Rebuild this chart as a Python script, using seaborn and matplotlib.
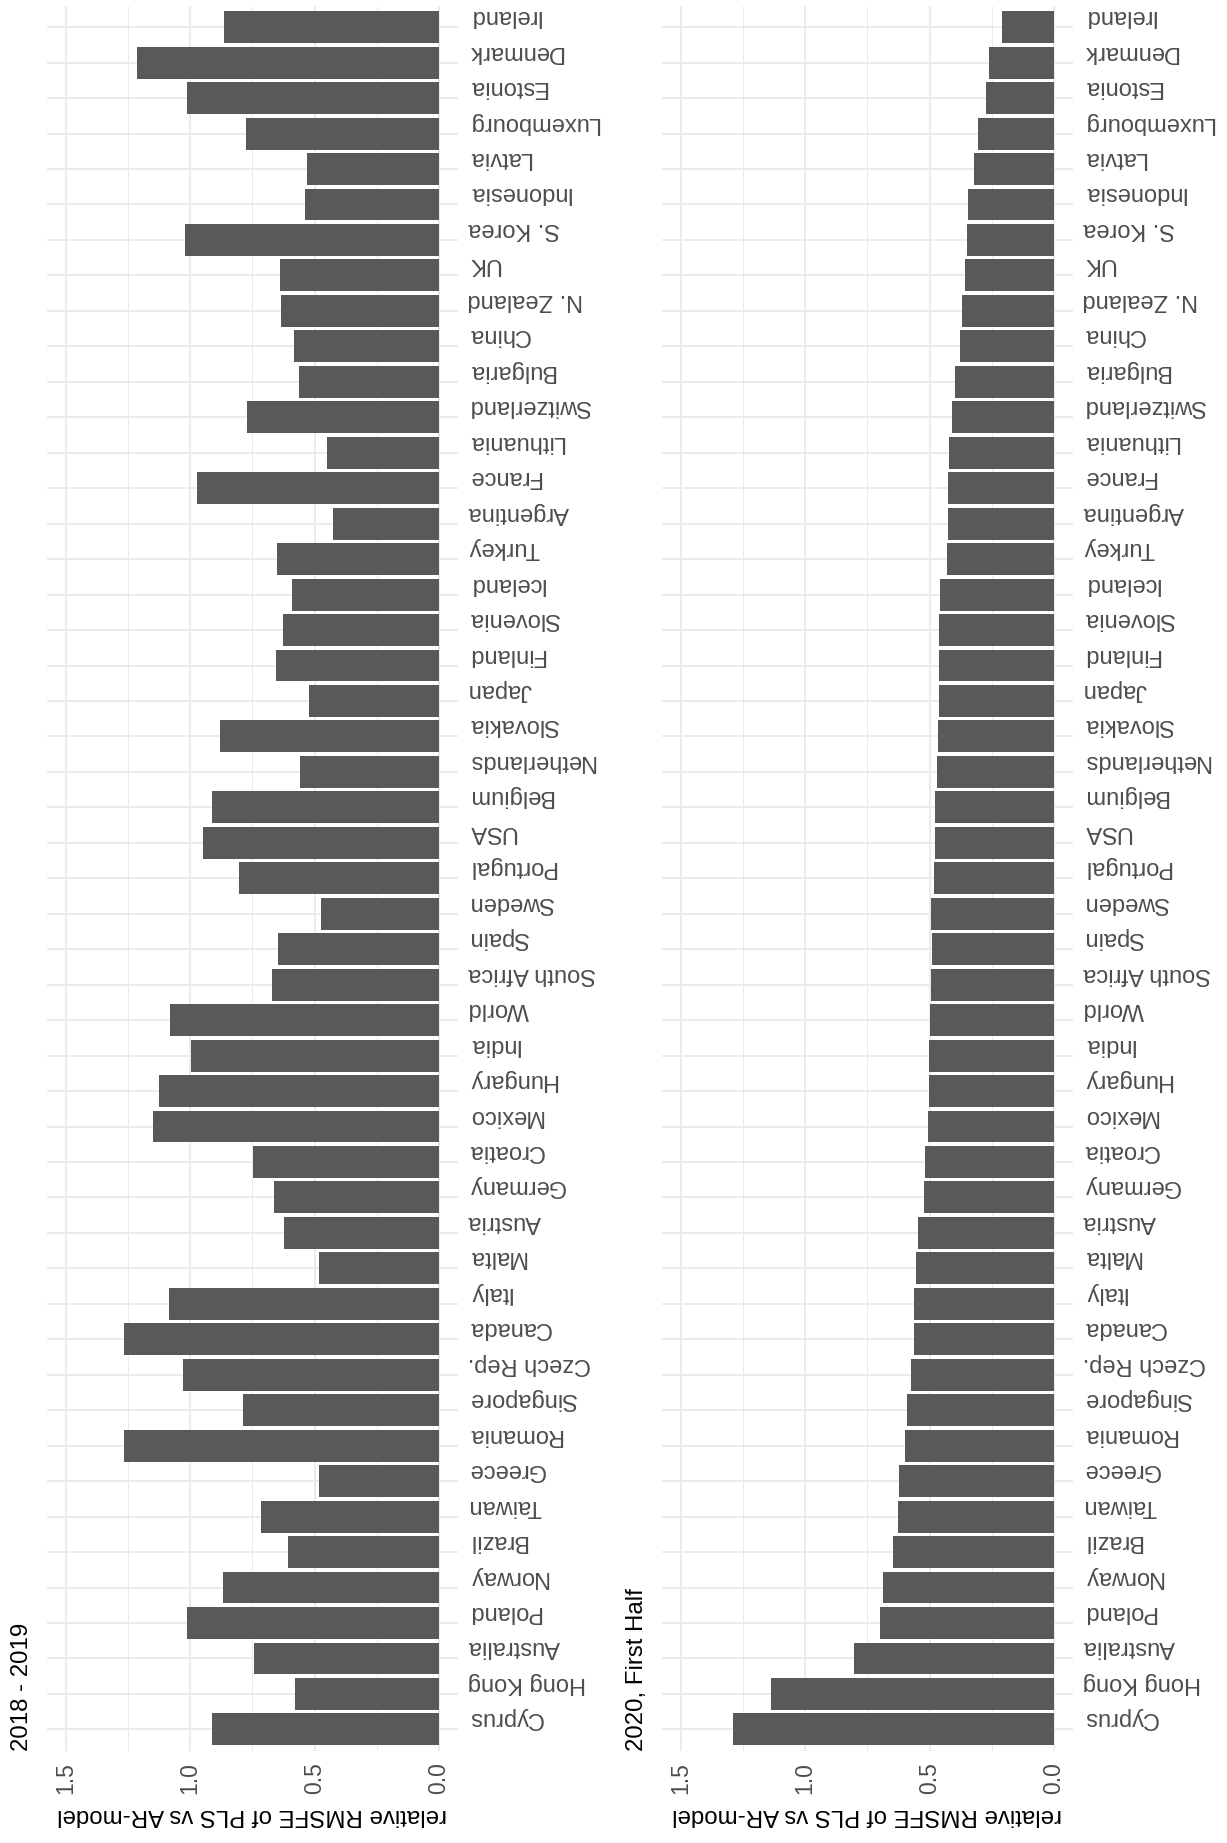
import pandas as pd
import seaborn as sns
import matplotlib.pyplot as plt
from matplotlib.ticker import MultipleLocator

# countries from bottom (Cyprus) to top (Ireland)
countries = ["Cyprus", "Hong Kong", "Australia", "Poland", "Norway", "Brazil",
             "Taiwan", "Greece", "Romania", "Singapore", "Czech Rep.", "Canada",
             "Italy", "Malta", "Austria", "Germany", "Croatia", "Mexico",
             "Hungary", "India", "World", "South Africa", "Spain", "Sweden",
             "Portugal", "USA", "Belgium", "Netherlands", "Slovakia", "Japan",
             "Finland", "Slovenia", "Iceland", "Turkey", "Argentina", "France",
             "Lithuania", "Switzerland", "Bulgaria", "China", "N. Zealand", "UK",
             "S. Korea", "Indonesia", "Latvia", "Luxembourg", "Estonia",
             "Denmark", "Ireland"]

rmsfe_2018_2019 = [0.911, 0.580, 0.743, 1.011, 0.869, 0.608,
                   0.714, 0.481, 1.266, 0.789, 1.030, 1.266,
                   1.083, 0.481, 0.625, 0.662, 0.746, 1.150,
                   1.125, 0.998, 1.079, 0.672, 0.646, 0.474,
                   0.802, 0.948, 0.911, 0.560, 0.880, 0.521,
                   0.655, 0.628, 0.592, 0.650, 0.427, 0.974,
                   0.449, 0.773, 0.561, 0.583, 0.636, 0.639,
                   1.019, 0.540, 0.530, 0.777, 1.012,
                   1.212, 0.866]

rmsfe_2020_h1 = [1.289, 1.136, 0.803, 0.699, 0.688, 0.646,
                 0.628, 0.622, 0.599, 0.592, 0.576, 0.563,
                 0.561, 0.555, 0.548, 0.523, 0.519, 0.507,
                 0.504, 0.504, 0.500, 0.495, 0.492, 0.493,
                 0.481, 0.477, 0.477, 0.469, 0.465, 0.463,
                 0.461, 0.461, 0.459, 0.432, 0.428, 0.425,
                 0.422, 0.410, 0.400, 0.377, 0.369, 0.358,
                 0.349, 0.345, 0.320, 0.305, 0.274,
                 0.261, 0.210]

panel_titles = ["2018 - 2019", "2020, First Half"]
x_ticks = [0.0, 0.5, 1.0, 1.5]
x_tick_labels = ["0.0", "0.5", "1.0", "1.5"]
x_title = "relative RMSFE of PLS vs AR-model"

sns.set_theme(style="white")
plt.rcParams['font.family'] = ['Liberation Sans', 'DejaVu Sans']

fig = plt.figure(figsize=(12.27, 18.43), dpi=100)
fig.patch.set_facecolor('white')

lefts = [47 / 1227, 662 / 1227]
for left, title, vals in zip(lefts, panel_titles, [rmsfe_2018_2019, rmsfe_2020_h1]):
    ax = fig.add_axes([left, 0.0501, 0.335, 0.9467])
    df = pd.DataFrame({'Country': countries, 'RMSFE': vals})
    sns.barplot(data=df, y='Country', x='RMSFE', order=countries, orient='h',
                color='#595959', saturation=1, width=0.9, errorbar=None,
                linewidth=0, ax=ax)

    ax.set_xlim(1.575, -0.076)
    ax.set_ylim(-0.6, len(countries) - 0.4)

    ax.set_xticks(x_ticks)
    ax.set_xticklabels(x_tick_labels)
    ax.xaxis.set_minor_locator(MultipleLocator(0.25))
    ax.grid(which='major', axis='both', color='#EBEBEB', linewidth=1.4)
    ax.grid(which='minor', axis='x', color='#EBEBEB', linewidth=0.7)
    ax.set_axisbelow(True)
    for s in ax.spines.values():
        s.set_visible(False)

    ax.yaxis.tick_right()
    ax.tick_params(axis='y', which='both', length=0, pad=7, labelsize=17,
                   labelcolor='#4D4D4D', labelrotation=180)
    ax.tick_params(axis='x', which='both', length=0, pad=8, labelsize=16.5,
                   labelcolor='#4D4D4D', labelrotation=90)
    for lab in ax.get_xticklabels():
        lab.set_va('top')
        lab.set_ha('center')
    for lab in ax.get_yticklabels():
        lab.set_va('bottom')

    ax.set_ylabel('')
    ax.set_xlabel(x_title, fontsize=17.3, rotation=180, color='black')
    ax.xaxis.set_label_coords(0.5, -0.037)
    ax.xaxis.label.set_va('center')

    ax.text(-0.061, 0.0, title, transform=ax.transAxes, rotation=90,
            ha='center', va='bottom', fontsize=17.3, color='black')

fig.savefig('out.png', dpi=100, facecolor='white')
